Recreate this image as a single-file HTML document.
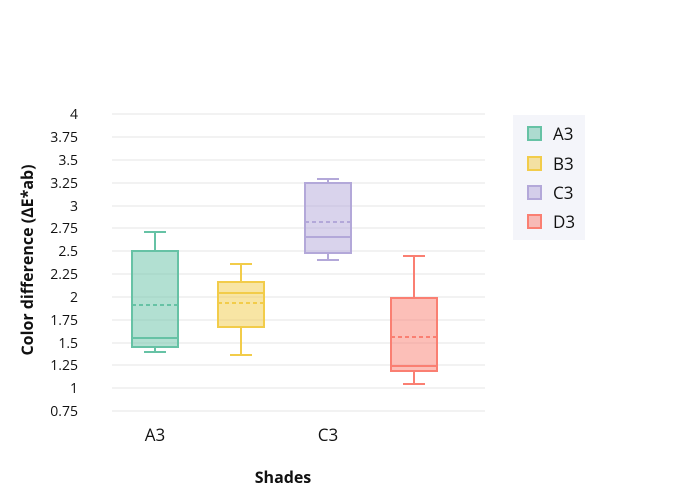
<!DOCTYPE html>
<html><head><style>body{margin:0;background:#fff}svg{display:block}text{font-family:"Open Sans","Liberation Sans",sans-serif}</style></head><body>
<svg width="700" height="500" xmlns="http://www.w3.org/2000/svg">
<g stroke="#e5e5e5" stroke-width="1">
<line x1="112" x2="485" y1="114" y2="114"/><line x1="112" x2="485" y1="137" y2="137"/><line x1="112" x2="485" y1="160" y2="160"/><line x1="112" x2="485" y1="183" y2="183"/><line x1="112" x2="485" y1="206" y2="206"/><line x1="112" x2="485" y1="228" y2="228"/><line x1="112" x2="485" y1="251" y2="251"/><line x1="112" x2="485" y1="274" y2="274"/><line x1="112" x2="485" y1="297" y2="297"/><line x1="112" x2="485" y1="320" y2="320"/><line x1="112" x2="485" y1="343" y2="343"/><line x1="112" x2="485" y1="365" y2="365"/><line x1="112" x2="485" y1="388" y2="388"/><line x1="112" x2="485" y1="411" y2="411"/>
</g>
<g font-size="14" fill="#111" text-anchor="end">
<text x="78" y="119">4</text><text x="78" y="142">3.75</text><text x="78" y="165">3.5</text><text x="78" y="188">3.25</text><text x="78" y="211">3</text><text x="78" y="233">2.75</text><text x="78" y="256">2.5</text><text x="78" y="279">2.25</text><text x="78" y="302">2</text><text x="78" y="325">1.75</text><text x="78" y="348">1.5</text><text x="78" y="370">1.25</text><text x="78" y="393">1</text><text x="78" y="416">0.75</text>
</g>
<g stroke-width="2">
<g stroke="#66c2a5"><rect x="132" y="251" width="46" height="96" fill="#66c2a5" fill-opacity="0.5"/><line x1="132" x2="178" y1="338" y2="338"/><line x1="132" x2="178" y1="305" y2="305" stroke-dasharray="4,3"/><line x1="155" x2="155" y1="232" y2="251"/><line x1="155" x2="155" y1="347" y2="352"/><line x1="144" x2="166" y1="232" y2="232"/><line x1="144" x2="166" y1="352" y2="352"/></g>
<g stroke="#f2cc4a"><rect x="218" y="282" width="46" height="45" fill="#f2cc4a" fill-opacity="0.5"/><line x1="218" x2="264" y1="293" y2="293"/><line x1="218" x2="264" y1="303" y2="303" stroke-dasharray="4,3"/><line x1="241" x2="241" y1="264" y2="282"/><line x1="241" x2="241" y1="327" y2="355"/><line x1="230" x2="252" y1="264" y2="264"/><line x1="230" x2="252" y1="355" y2="355"/></g>
<g stroke="#b3a8d9"><rect x="305" y="183" width="46" height="70" fill="#b3a8d9" fill-opacity="0.5"/><line x1="305" x2="351" y1="237" y2="237"/><line x1="305" x2="351" y1="222" y2="222" stroke-dasharray="4,3"/><line x1="328" x2="328" y1="179" y2="183"/><line x1="328" x2="328" y1="253" y2="260"/><line x1="317" x2="339" y1="179" y2="179"/><line x1="317" x2="339" y1="260" y2="260"/></g>
<g stroke="#fa7f72"><rect x="391" y="298" width="46" height="73" fill="#fa7f72" fill-opacity="0.5"/><line x1="391" x2="437" y1="366" y2="366"/><line x1="391" x2="437" y1="337" y2="337" stroke-dasharray="4,3"/><line x1="414" x2="414" y1="256" y2="298"/><line x1="414" x2="414" y1="371" y2="384"/><line x1="403" x2="425" y1="256" y2="256"/><line x1="403" x2="425" y1="384" y2="384"/></g>
</g>
<g font-size="17" fill="#111" text-anchor="middle"><text x="155" y="441">A3</text><text x="328" y="441">C3</text></g>
<text x="283" y="483" font-size="16" font-weight="bold" text-anchor="middle" fill="#111">Shades</text>
<text transform="translate(33,260) rotate(-90)" font-size="16" font-weight="bold" text-anchor="middle" fill="#111">Color difference (ΔE*ab)</text>
<rect x="513" y="115" width="72" height="125" fill="#f4f5fa"/>
<g stroke-width="2">
<rect x="528" y="127" width="13" height="13" fill="#66c2a5" fill-opacity="0.5" stroke="#66c2a5"/>
<rect x="528" y="157" width="13" height="13" fill="#f2cc4a" fill-opacity="0.5" stroke="#f2cc4a"/>
<rect x="528" y="186" width="13" height="13" fill="#b3a8d9" fill-opacity="0.5" stroke="#b3a8d9"/>
<rect x="528" y="215" width="13" height="13" fill="#fa7f72" fill-opacity="0.5" stroke="#fa7f72"/>
</g>
<g font-size="17" fill="#111"><text x="553" y="140">A3</text><text x="553" y="170">B3</text><text x="553" y="199">C3</text><text x="553" y="228">D3</text></g>
</svg>
</body></html>
